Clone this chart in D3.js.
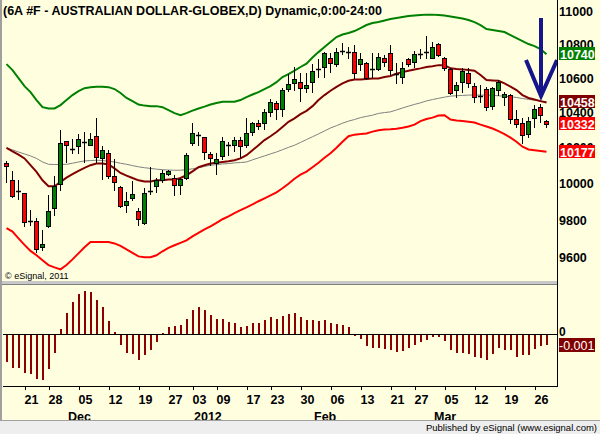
<!DOCTYPE html>
<html><head><meta charset="utf-8">
<script src="https://cdn.jsdelivr.net/npm/d3@7"></script>
<style>
body{margin:0;background:#fff}
svg{display:block}
text{font-family:Arial,"Liberation Sans",sans-serif}
</style>
</head><body>
<svg id="c" width="600" height="434"></svg>
<script>
// ---------- DATA (price x10000) ----------
const opens  = [10117,10022,9958,9950,9796,9795,9656,9767,9866,10000,10237,10193,10209,10234,10218,10265,10145,10168,10040,9981,9885,9923,9848,9785,9960,9985,10022,10055,10031,9994,10033,10224,10271,10263,10164,10115,10152,10216,10214,10243,10214,10289,10338,10341,10401,10456,10418,10534,10569,10575,10540,10575,10657,10663,10721,10680,10762,10756,10751,10680,10686,10657,10655,10719,10745,10623,10608,10710,10692,10741,10756,10721,10799,10721,10653,10530,10575,10631,10555,10497,10534,10439,10530,10488,10501,10361,10338,10280,10367,10433,10351];
const highs  = [10124,10068,10022,9950,9854,9814,9749,9935,10040,10303,10237,10252,10277,10288,10284,10367,10209,10190,10139,9985,9954,10012,9866,9978,10093,10031,10074,10074,10046,10033,10171,10342,10291,10263,10176,10168,10258,10233,10258,10261,10367,10347,10357,10420,10476,10466,10540,10622,10667,10628,10631,10682,10710,10755,10749,10775,10805,10785,10795,10745,10696,10745,10747,10735,10795,10686,10696,10719,10761,10771,10849,10815,10809,10725,10661,10578,10657,10657,10569,10559,10549,10549,10588,10517,10505,10414,10367,10372,10443,10449,10357];
const lows   = [10009,9926,9913,9767,9776,9629,9638,9763,9826,9963,10120,10168,10171,10120,10214,10120,10024,10033,9963,9869,9845,9908,9772,9778,9941,9954,10009,10046,9935,9944,10028,10214,10214,10139,10102,10055,10139,10158,10181,10149,10203,10271,10305,10305,10381,10361,10379,10524,10530,10468,10520,10517,10608,10608,10637,10670,10741,10718,10598,10647,10592,10608,10647,10670,10617,10569,10569,10670,10666,10716,10716,10716,10729,10647,10505,10491,10520,10549,10462,10462,10414,10418,10501,10443,10341,10319,10228,10261,10319,10347,10319];
const closes = [10100,9932,9956,9790,9794,9647,9673,9848,9985,10228,10215,10191,10252,10232,10252,10148,10190,10042,10006,9876,9903,9940,9808,9950,9958,10022,10061,10068,9991,10024,10158,10286,10269,10176,10145,10139,10237,10214,10246,10211,10286,10338,10322,10401,10462,10418,10530,10565,10592,10540,10559,10643,10655,10745,10690,10751,10760,10754,10628,10712,10598,10655,10725,10692,10647,10621,10657,10682,10739,10739,10754,10781,10735,10657,10511,10559,10643,10569,10491,10495,10433,10540,10578,10505,10361,10332,10271,10351,10420,10385,10332];

const maLine = [10199,10180,10161,10140,10102,10065,10018,9985,9985,10009,10033,10052,10070,10087,10102,10111,10111,10106,10084,10059,10044,10031,10018,10011,10011,10018,10018,10022,10022,10031,10046,10068,10091,10102,10111,10116,10120,10124,10130,10140,10158,10186,10214,10243,10265,10289,10318,10347,10367,10391,10410,10437,10472,10501,10526,10549,10569,10584,10592,10592,10594,10597,10598,10606,10612,10626,10635,10643,10650,10657,10665,10670,10676,10676,10657,10653,10651,10647,10643,10618,10588,10586,10584,10569,10550,10530,10501,10484,10475,10466,10458];
const slowLine = [10199,10188,10176,10165,10154,10140,10120,10107,10106,10106,10107,10113,10120,10126,10128,10130,10128,10124,10120,10113,10107,10100,10093,10088,10084,10080,10077,10075,10074,10074,10077,10082,10088,10095,10102,10105,10109,10111,10115,10117,10120,10132,10143,10154,10165,10176,10189,10202,10214,10230,10246,10262,10278,10295,10312,10325,10339,10351,10360,10371,10378,10385,10395,10400,10404,10415,10426,10437,10447,10456,10467,10475,10482,10489,10495,10497,10499,10501,10501,10501,10501,10499,10497,10494,10491,10487,10481,10476,10471,10466,10462];
const upperBand = [10682,10647,10600,10553,10518,10472,10431,10424,10424,10443,10472,10501,10524,10541,10547,10550,10550,10547,10536,10513,10484,10466,10446,10440,10437,10437,10431,10414,10397,10385,10397,10411,10423,10434,10446,10455,10462,10462,10462,10472,10489,10504,10518,10536,10553,10576,10606,10623,10644,10665,10685,10721,10753,10783,10813,10843,10858,10867,10879,10897,10915,10927,10933,10942,10951,10957,10963,10969,10972,10975,10978,10978,10975,10972,10966,10960,10954,10945,10933,10915,10891,10885,10879,10873,10855,10837,10819,10801,10789,10771,10740];
const lowerBand = [9757,9738,9702,9667,9635,9612,9585,9560,9548,9537,9560,9590,9622,9654,9682,9682,9682,9682,9675,9662,9643,9625,9606,9601,9601,9612,9633,9651,9665,9678,9691,9713,9731,9750,9767,9785,9805,9821,9838,9854,9870,9886,9903,9919,9935,9952,9974,9999,10027,10049,10066,10091,10116,10144,10169,10200,10234,10265,10274,10277,10281,10291,10299,10303,10305,10308,10313,10320,10331,10351,10363,10371,10383,10385,10360,10354,10351,10348,10343,10331,10320,10309,10294,10277,10257,10234,10206,10190,10186,10182,10177];

const oscValues = [-0.0028,-0.0034,-0.0034,-0.0039,-0.0040,-0.0045,-0.0046,-0.0035,-0.0019,0.0005,0.0021,0.0032,0.0040,0.0043,0.0042,0.0034,0.0027,0.0013,0.0002,-0.0011,-0.0019,-0.0020,-0.0026,-0.0021,-0.0016,-0.0008,0.0001,0.0007,0.0008,0.0009,0.0015,0.0024,0.0027,0.0024,0.0019,0.0015,0.0015,0.0012,0.0011,0.0007,0.0008,0.0011,0.0011,0.0014,0.0017,0.0015,0.0018,0.0020,0.0021,0.0017,0.0014,0.0014,0.0013,0.0014,0.0011,0.0010,0.0009,0.0007,-0.0002,-0.0005,-0.0012,-0.0014,-0.0014,-0.0015,-0.0016,-0.0018,-0.0017,-0.0014,-0.0011,-0.0008,-0.0006,-0.0003,-0.0003,-0.0007,-0.0016,-0.0019,-0.0019,-0.0020,-0.0023,-0.0024,-0.0026,-0.0020,-0.0014,-0.0016,-0.0016,-0.0023,-0.0021,-0.0021,-0.0015,-0.0012,-0.0011];

const dayTickIndex = [4,8,13,18,23,28,32,36,41,45,50,55,60,65,69,74,79,84,89];
const dayTickLabels = ["21","28","05","12","19","27","03","09","17","23","30","06","13","21","27","05","12","19","26"];
const monthTickIndex = [11,32,52,72];
const monthTickLabels = ["Dec","2012","Feb","Mar"];
const priceTicks = [9600,9800,10000,10200,10400,10600,10800,11000];
const lastLabels = [
  {v:10740, text:"10740", fill:"#008000"},
  {v:10458, text:"10458", fill:"#800000"},
  {v:10332, text:"10332", fill:"#FF0000"},
  {v:10177, text:"10177", fill:"#FF0000"}
];
const oscLast = "-0.001";
const title = "(6A #F - AUSTRALIAN DOLLAR-GLOBEX,D) Dynamic,0:00-24:00";

// ---------- LAYOUT ----------
const W=600,H=434, bg="#FFFFE0";
const plotR=557;
const svg=d3.select("#c");
svg.append("rect").attr("width",W).attr("height",H).attr("fill",bg);

const n=closes.length;
const idx=d3.range(n);
const xBand=d3.scaleBand().domain(idx).range([3,3+6*n]).paddingInner(0);
const cx=i=>Math.floor(xBand(i)+3); // pixel column
const y=d3.scaleLog().domain([9600,11000]).range([257.5,11]);
const yo=d3.scaleLinear().domain([-0.0053,0.0049]).range([387,285]);
const snap=v=>Math.round(v)+0.5;

const clip=svg.append("defs").append("clipPath").attr("id","pc");
clip.append("rect").attr("x",3).attr("y",0).attr("width",plotR-3).attr("height",281);
const main=svg.append("g").attr("clip-path","url(#pc)");

// bands & MAs
const line=arr=>d3.line().x((d,i)=>cx(i)+0.5).y(d=>y(d))(arr);
main.append("path").attr("d",line(upperBand)).attr("fill","none").attr("stroke","#008000").attr("stroke-width",2);
main.append("path").attr("d",line(lowerBand)).attr("fill","none").attr("stroke","#FF0000").attr("stroke-width",2);
main.append("path").attr("d",line(slowLine)).attr("fill","none").attr("stroke","#808080").attr("stroke-width",1);
main.append("path").attr("d",line(maLine)).attr("fill","none").attr("stroke","#800000").attr("stroke-width",2);

// candles
const cg=main.append("g");
idx.forEach(i=>{
  const c=cx(i);
  const o=opens[i],cl=closes[i],h=highs[i],l=lows[i];
  cg.append("line").attr("x1",c+0.5).attr("x2",c+0.5).attr("y1",Math.round(y(h))).attr("y2",Math.round(y(l))+1)
    .attr("stroke","#000").attr("stroke-width",1);
  const top=snap(y(Math.max(o,cl))), bot=snap(y(Math.min(o,cl)));
  if(bot-top<2){
    cg.append("line").attr("x1",c-2).attr("x2",c+3).attr("y1",snap(y((o+cl)/2))).attr("y2",snap(y((o+cl)/2)))
      .attr("stroke","#000").attr("stroke-width",1.5);
  } else {
    cg.append("rect").attr("x",c-1.5).attr("width",4).attr("y",top).attr("height",bot-top)
      .attr("fill",cl>=o?"#008000":"#FF0000").attr("stroke","#000").attr("stroke-width",1);
  }
});

// arrow
main.append("path").attr("d","M541,18L541,96M526,60L541,96L557,60").attr("fill","none")
  .attr("stroke","#15158C").attr("stroke-width",4).attr("stroke-linejoin","miter").attr("stroke-linecap","butt");

// copyright
svg.append("text").attr("x",5).attr("y",279).attr("font-size",9).attr("fill","#000").text("\u00A9 eSignal, 2011");

// title
svg.append("text").attr("x",3).attr("y",15).attr("font-size",12.5).attr("font-weight","bold").attr("fill","#000").text(title);

// separator
svg.append("rect").attr("x",0).attr("y",281).attr("width",plotR).attr("height",3).attr("fill","#C8C8C8");
svg.append("line").attr("x1",0).attr("x2",plotR).attr("y1",284.5).attr("y2",284.5).attr("stroke","#808080");

// oscillator
const og=svg.append("g");
og.append("line").attr("x1",3).attr("x2",plotR).attr("y1",334.5).attr("y2",334.5).attr("stroke","#000");
idx.forEach(i=>{
  const v=oscValues[i], c=cx(i);
  og.append("rect").attr("x",c).attr("width",2)
    .attr("y",v>=0?Math.round(yo(v)):335).attr("height",Math.max(1,Math.abs(Math.round(yo(v))-(v>=0?334:335))))
    .attr("fill","#8B0000");
});

// right axis
svg.append("line").attr("x1",plotR+0.5).attr("x2",plotR+0.5).attr("y1",0).attr("y2",387).attr("stroke","#000");
const ax=svg.append("g");
priceTicks.forEach(v=>{
  ax.append("text").attr("x",559).attr("y",y(v)).attr("dy","0.36em").attr("font-size",12.5).attr("font-weight","bold").attr("fill","#000").text(v);
});
lastLabels.forEach(d=>{
  const yy=Math.round(y(d.v));
  ax.append("rect").attr("x",559).attr("y",yy-7).attr("width",36).attr("height",13).attr("fill",d.fill);
  ax.append("text").attr("x",560).attr("y",yy).attr("dy","0.36em").attr("font-size",12.5).attr("font-weight","bold").attr("fill","#fff").text(d.text);
});
ax.append("text").attr("x",559).attr("y",332).attr("dy","0.36em").attr("font-size",12).attr("font-weight","bold").attr("fill","#000").text("0");
ax.append("rect").attr("x",559).attr("y",338).attr("width",36).attr("height",14).attr("fill","#800000");
ax.append("text").attr("x",559).attr("y",345).attr("dy","0.36em").attr("font-size",12.5).attr("fill","#fff").text(oscLast);

// bottom axis
svg.append("line").attr("x1",3).attr("x2",plotR+1).attr("y1",386.5).attr("y2",386.5).attr("stroke","#000");
const xa=svg.append("g");
dayTickIndex.forEach((i,k)=>{
  const c=cx(i);
  xa.append("line").attr("x1",c-4.5).attr("x2",c-4.5).attr("y1",387).attr("y2",390).attr("stroke","#000");
  xa.append("text").attr("x",c+1.5).attr("y",404).attr("text-anchor","middle").attr("font-size",12.5).attr("font-weight","bold").attr("fill","#000").text(dayTickLabels[k]);
});
monthTickIndex.forEach((i,k)=>{
  xa.append("text").attr("x",cx(i)-4).attr("y",421).attr("font-size",12.5).attr("font-weight","bold").attr("fill","#000").text(monthTickLabels[k]);
});

// footer
svg.append("rect").attr("x",0).attr("y",420).attr("width",W).attr("height",14).attr("fill","#EEEEEE");
svg.append("line").attr("x1",0).attr("x2",W).attr("y1",420.5).attr("y2",420.5).attr("stroke","#A0A0A0");
svg.append("text").attr("x",597).attr("y",431).attr("text-anchor","end").attr("font-size",9.5).attr("fill","#000").text("Published by eSignal (www.esignal.com)");

// left border
svg.append("line").attr("x1",1).attr("x2",1).attr("y1",0).attr("y2",420).attr("stroke","#A0A0A0").attr("stroke-width",2);
</script>
</body></html>
